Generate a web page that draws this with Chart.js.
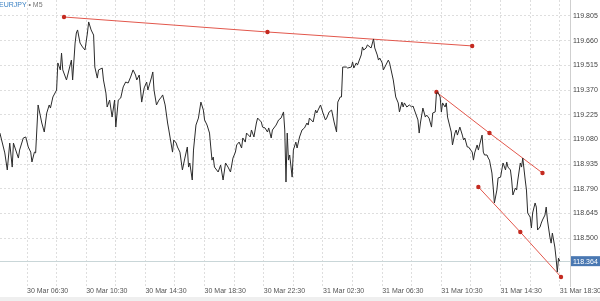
<!DOCTYPE html>
<html>
<head>
<meta charset="utf-8">
<script src="https://cdn.jsdelivr.net/npm/chart.js@4/dist/chart.umd.min.js"></script>
<style>
  body { margin: 0; background: #efefef; }
  #wrap { position: relative; width: 600px; height: 297px; background: #fff; }
  #title { position: absolute; left: -1px; top: 1px; font: 7px "Liberation Sans", Arial, sans-serif; color: #777; white-space: nowrap; }
  #title b { font-weight: normal; color: #3b82c4; }
</style>
</head>
<body>
<div id="wrap">
  <canvas id="myChart" width="600" height="297"></canvas>
  <div id="title"><b>EURJPY</b> • M5</div>
</div>
<script>
// x values are M5 bar numbers counted from 30 Mar 06:30
const bars = [-22, -18, -16, -14, -12, -11, -7, -6, -3, -1, 1, 3, 4, 6, 7, 9, 12, 14, 16, 18, 19, 21, 24, 25, 27, 28, 29, 32, 33, 36, 37, 39, 40, 41, 43, 45, 47, 49, 50, 52, 54, 55, 57, 58, 61, 62, 64, 65, 67, 69, 71, 72, 74, 76, 78, 80, 82, 84, 86, 88, 89, 91, 93, 95, 97, 98, 101, 102, 103, 105, 107, 109, 110, 112, 114, 115, 118, 119, 121, 122, 124, 126, 128, 130, 131, 132, 134,
  135, 137, 139, 141, 143, 144, 146, 148, 149, 150, 151, 152, 155, 157, 159, 161, 163, 165, 167, 169, 170, 172, 174, 175, 177, 178, 181, 182, 184, 186, 187, 190, 191, 193, 195, 196, 198, 199, 202, 204, 206, 208, 209, 210, 211, 212, 213, 215, 216, 218, 219, 221, 223, 225, 227, 228, 229, 232, 234, 235, 236, 238, 240, 242, 243, 245, 247, 249, 251, 252, 254, 255, 256, 259, 260, 263, 264, 265, 267, 268, 271, 272, 273, 275, 276, 279, 281, 282, 284, 285, 286, 288, 289, 291, 293, 294,
  297, 299, 301, 302, 304, 305, 306, 308, 310, 312, 313, 315, 317, 318, 319, 321, 323, 324, 326, 328, 329, 331, 332, 333, 335, 336, 337, 339, 340, 341, 343, 344, 345, 347, 348, 349, 351, 353, 354, 355, 357, 358, 361, 362, 363, 365, 366, 367, 369, 370, 371, 373, 374, 375, 377, 378, 379, 381, 382, 384, 385, 386, 388, 389, 390, 392, 393, 394, 396, 397, 398, 400, 401, 402, 404, 405, 406, 408, 409, 410, 412, 413, 414, 416, 417, 418, 420, 421, 422, 424, 425, 426, 428, 429, 430, 431, 432];
const closes = [119.117, 119.000, 118.900, 119.058, 118.917, 119.058, 118.970, 119.017, 119.088, 119.094, 119.035, 119.005, 118.947, 119.005, 119.000, 119.282, 119.176, 119.123, 119.235, 119.282, 119.264, 119.329, 119.370, 119.529, 119.488, 119.587, 119.488, 119.429, 119.458, 119.546, 119.429, 119.646, 119.705, 119.723, 119.646, 119.623, 119.605, 119.705, 119.770, 119.723, 119.693, 119.505, 119.440, 119.488, 119.499, 119.429, 119.352, 119.270, 119.311, 119.211, 119.311, 119.152, 119.311, 119.323, 119.388, 119.417, 119.411, 119.446, 119.488, 119.458, 119.429, 119.458, 119.299, 119.382, 119.417, 119.370, 119.446, 119.476, 119.370, 119.282, 119.311, 119.329, 119.341, 119.282, 119.176, 119.135, 119.005, 119.076, 119.058, 119.035, 119.005, 118.900, 118.970, 119.035, 118.917, 118.941, 118.841,
  119.017, 119.164, 119.205, 119.299, 119.252, 119.194, 119.164, 119.117, 119.035, 118.958, 118.976, 118.917, 118.888, 118.929, 118.841, 118.941, 118.917, 118.888, 118.970, 119.005, 119.047, 119.064, 119.029, 119.088, 119.064, 119.117, 119.094, 119.135, 119.094, 119.176, 119.205, 119.182, 119.152, 119.147, 119.123, 119.147, 119.088, 119.135, 119.164, 119.194, 119.205, 119.241, 119.135, 118.829, 119.117, 118.958, 118.988, 118.858, 119.017, 119.064, 119.029, 119.094, 119.135, 119.147, 119.176, 119.164, 119.205, 119.182, 119.252, 119.235, 119.252, 119.282, 119.235, 119.194, 119.205, 119.241, 119.252, 119.182, 119.123, 119.299, 119.329, 119.329, 119.505, 119.505, 119.499, 119.505, 119.535, 119.499, 119.529, 119.517, 119.576, 119.623, 119.605, 119.617, 119.635, 119.617, 119.670, 119.617, 119.576, 119.546, 119.558, 119.529, 119.488, 119.517, 119.546, 119.529,
  119.429, 119.329, 119.294, 119.241, 119.299, 119.270, 119.294, 119.270, 119.282, 119.270, 119.276, 119.235, 119.194, 119.117, 119.176, 119.264, 119.211, 119.223, 119.205, 119.152, 119.235, 119.241, 119.352, 119.358, 119.329, 119.241, 119.294, 119.270, 119.294, 119.211, 119.152, 119.123, 119.047, 119.117, 119.135, 119.105, 119.152, 119.105, 119.076, 119.088, 119.035, 119.035, 119.005, 118.958, 119.000, 119.047, 119.017, 119.047, 119.105, 119.005, 118.988, 118.988, 118.970, 118.958, 118.882, 118.800, 118.706, 118.782, 118.853, 118.858, 118.900, 118.941, 118.900, 118.947, 118.917, 118.900, 118.841, 118.753, 118.794, 118.782, 118.841, 118.941, 118.917, 118.970, 118.841, 118.782, 118.647, 118.623, 118.559, 118.647, 118.706, 118.682, 118.547, 118.565, 118.588, 118.606, 118.635, 118.682, 118.606, 118.506, 118.470, 118.529, 118.447, 118.382, 118.300, 118.382, 118.364];

// trend lines drawn on the chart (start, middle, end)
const trend1Bars = [30, 195, 361];
const trend1Prices = [119.799, 119.711, 119.629];
const trend2Bars = [332, 375, 418];
const trend2Prices = [119.358, 119.117, 118.882];
const trend3Bars = [366, 400, 433];
const trend3Prices = [118.800, 118.535, 118.271];

const xTickBars = [0, 48, 96, 144, 192, 240, 288, 336, 384, 432];
const xTickLabels = ["30 Mar 06:30", "30 Mar 10:30", "30 Mar 14:30", "30 Mar 18:30", "30 Mar 22:30", "31 Mar 02:30", "31 Mar 06:30", "31 Mar 10:30", "31 Mar 14:30", "31 Mar 18:30"];
const xGridBars = [0, 24, 48, 72, 96, 120, 144, 168, 192, 216, 240, 264, 288, 312, 336, 360, 384, 408, 432];
const yTicks = [118.500, 118.645, 118.790, 118.935, 119.080, 119.225, 119.370, 119.515, 119.660, 119.805];

const FONT = "'Liberation Sans', Arial, sans-serif";
const trendColor = "#e2574c";
const dotColor = "#c42a20";

const toPoints = (xs, ys) => xs.map((x, i) => ({ x: x, y: ys[i] }));
const last = closes[closes.length - 1];

const trendSet = (xs, ys) => ({
  data: toPoints(xs, ys),
  borderColor: trendColor,
  borderWidth: 1,
  pointRadius: 2.2,
  pointBackgroundColor: dotColor,
  pointBorderWidth: 0,
  tension: 0,
});

const priceLine = {
  id: "priceLine",
  beforeDatasetsDraw(chart) {
    const { ctx, chartArea, scales } = chart;
    const y = Math.round(scales.y.getPixelForValue(last)) + 0.5;
    ctx.save();
    ctx.strokeStyle = "#c9d6d8";
    ctx.lineWidth = 1;
    ctx.beginPath();
    ctx.moveTo(chartArea.left, y);
    ctx.lineTo(chartArea.right, y);
    ctx.stroke();
    ctx.restore();
  },
  afterDraw(chart) {
    const { ctx, chartArea, scales } = chart;
    const y = scales.y.getPixelForValue(last);
    ctx.save();
    ctx.fillStyle = "#4a78b2";
    ctx.fillRect(chartArea.right + 1, y - 5, 29, 10);
    ctx.fillStyle = "#fff";
    ctx.font = "7px " + FONT;
    ctx.textBaseline = "middle";
    ctx.fillText(last.toFixed(3), chartArea.right + 3, y + 0.5);
    ctx.restore();
  },
};

new Chart("myChart", {
  type: "line",
  data: {
    datasets: [
      {
        data: toPoints(bars, closes),
        borderColor: "#2b2b2b",
        borderWidth: 1,
        pointRadius: 0,
        tension: 0,
      },
      trendSet(trend1Bars, trend1Prices),
      trendSet(trend2Bars, trend2Prices),
      trendSet(trend3Bars, trend3Prices),
    ],
  },
  options: {
    responsive: false,
    animation: false,
    devicePixelRatio: 1,
    layout: { padding: 0, autoPadding: false },
    plugins: { legend: { display: false }, tooltip: { enabled: false } },
    scales: {
      x: {
        type: "linear",
        min: -21.9,
        max: 440.3,
        afterBuildTicks: (s) => {
          s.ticks = xGridBars.map((v) => ({ value: v }));
        },
        afterFit: (s) => {
          s.height = 11;
          s.paddingLeft = 0;
          s.paddingRight = 0;
        },
        ticks: {
          autoSkip: false,
          maxRotation: 0,
          align: "start",
          padding: 1,
          color: "#555",
          font: { size: 7, family: FONT },
          callback: (v) => {
            const i = xTickBars.indexOf(v);
            return i < 0 ? "" : xTickLabels[i];
          },
        },
        grid: { color: "#dedede", drawTicks: false },
        border: { display: false, dash: [2, 2] },
      },
      y: {
        position: "right",
        min: 118.218,
        max: 119.899,
        afterBuildTicks: (s) => {
          s.ticks = yTicks.map((v) => ({ value: v }));
        },
        afterFit: (s) => {
          s.width = 30;
          s.paddingTop = 0;
          s.paddingBottom = 0;
        },
        ticks: {
          padding: 3,
          color: "#444",
          font: { size: 7, family: FONT },
          callback: (v) => v.toFixed(3),
        },
        grid: { color: "#dedede", drawTicks: false },
        border: { display: true, color: "#cfcfcf", dash: [2, 2] },
      },
    },
  },
  plugins: [priceLine],
});
</script>
</body>
</html>
